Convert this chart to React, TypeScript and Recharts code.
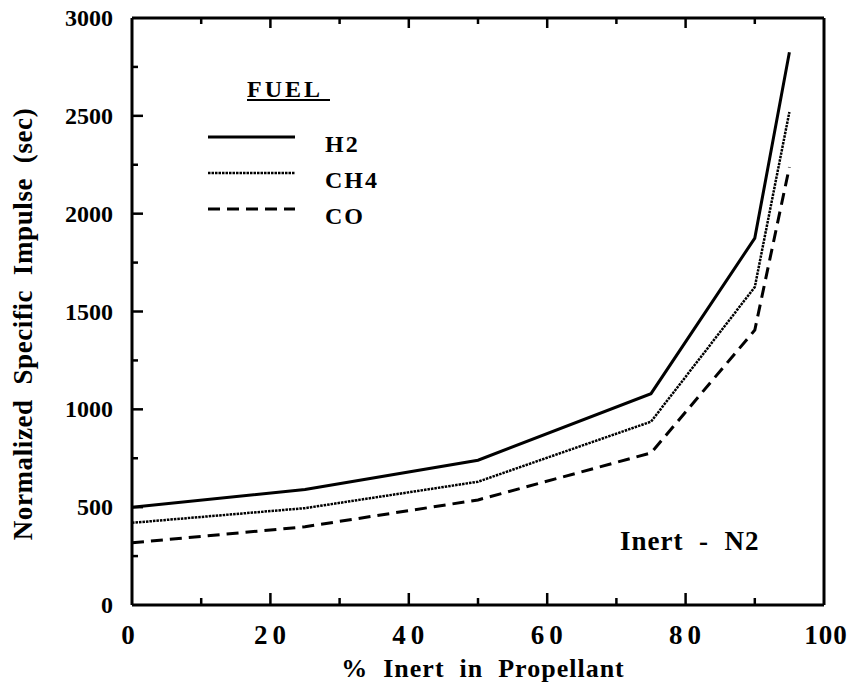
import React from "react";
import { LineChart, Line, XAxis, YAxis, Legend, Customized } from "recharts";

const inertPct = [0, 25, 50, 75, 90, 95];
const h2 = [500, 590, 740, 1080, 1875, 2825];
const ch4 = [420, 495, 630, 937, 1625, 2520];
const co = [318, 400, 537, 777, 1405, 2238];
const xTicks = [0, 10, 20, 30, 40, 50, 60, 70, 80, 90, 100];
const yTicks = [0, 250, 500, 750, 1000, 1250, 1500, 1750, 2000, 2250, 2500, 2750, 3000];
const seriesNames = ["H2", "CH4", "CO"];

const data = inertPct.map((x, i) => ({ x, H2: h2[i], CH4: ch4[i], CO: co[i] }));

const FONT = "Liberation Serif";
const txt = (size: number, spacing = 0): React.CSSProperties => ({
  fontFamily: FONT,
  fontWeight: 700,
  fontSize: size,
  letterSpacing: spacing,
  whiteSpace: "pre",
});

const seriesStyle: Record<string, { dash?: string; width: number }> = {
  H2: { width: 3 },
  CH4: { dash: "2.5 1", width: 2.5 },
  CO: { dash: "12 7", width: 3 },
};

const BottomTick = (props: any) => {
  const { x, y, payload } = props;
  const v = payload.value;
  const major = v % 20 === 0;
  return (
    <g>
      {v !== 0 && v !== 100 && (
        <line x1={x} x2={x} y1={y} y2={y - (major ? 12 : 7)} stroke="#000" strokeWidth={2.5} />
      )}
      {major && (
        <text x={x + (v === 0 ? -4 : 2)} y={y + 39} textAnchor="middle" fontFamily={FONT} fill="#000" style={txt(27, v === 0 ? 0 : v === 100 ? 1 : 5)}>
          {v}
        </text>
      )}
    </g>
  );
};

const TopTick = (props: any) => {
  const { x, y, payload } = props;
  const v = payload.value;
  const major = v % 20 === 0;
  if (v === 0 || v === 100) return <g />;
  return <line x1={x} x2={x} y1={y} y2={y + (major ? 10 : 6)} stroke="#000" strokeWidth={2.5} />;
};

const LeftTick = (props: any) => {
  const { x, y, payload } = props;
  const v = payload.value;
  const major = v % 500 === 0;
  return (
    <g>
      {v !== 0 && v !== 3000 && (
        <line x1={x} x2={x + (major ? 11 : 6)} y1={y} y2={y} stroke="#000" strokeWidth={2.5} />
      )}
      {major && (
        <text x={x - 19} y={y} dy={8} textAnchor="end" fontFamily={FONT} fill="#000" style={txt(24)}>
          {v}
        </text>
      )}
    </g>
  );
};

const RightTick = (props: any) => {
  const { x, y, payload } = props;
  const v = payload.value;
  const major = v % 500 === 0;
  if (v === 0 || v === 3000) return <g />;
  return <line x1={x} x2={x - (major ? 11 : 6)} y1={y} y2={y} stroke="#000" strokeWidth={2.5} />;
};

const LegendBox = () => (
  <svg width={200} height={160} style={{ display: "block", overflow: "visible" }}>
    <text x={50} y={27} fontFamily={FONT} fill="#000" style={txt(24, 3)}>
      FUEL
    </text>
    <line x1={50} x2={133} y1={30} y2={30} stroke="#000" strokeWidth={2} />
    {seriesNames.map((name, i) => {
      const ly = 67 + i * 36;
      const st = seriesStyle[name];
      return (
        <g key={name}>
          <line x1={11} x2={98} y1={ly} y2={ly} stroke="#000" strokeWidth={st.width} strokeDasharray={st.dash} />
          <text x={128} y={ly + 15} fontFamily={FONT} fill="#000" style={txt(24, 2)}>
            {name}
          </text>
        </g>
      );
    })}
  </svg>
);

const InertNote = () => (
  <text x={620} y={550} fontFamily={FONT} fill="#000" style={txt(27, 1)}>
    {"Inert  -  N2"}
  </text>
);

const AxisTitles = () => (
  <g>
    <text x={483} y={677} textAnchor="middle" fontFamily={FONT} fill="#000" style={txt(26, 1)}>
      {"%  Inert  in  Propellant"}
    </text>
    <text x={0} y={0} transform="translate(32,324) rotate(-90)" textAnchor="middle" fontFamily={FONT} fill="#000" style={txt(27, 0.6)}>
      {"Normalized  Specific  Impulse  (sec)"}
    </text>
  </g>
);

export default function App() {
  return (
    <div style={{ position: "absolute", left: 0, top: 0, width: 852, height: 686, background: "#fff", fontFamily: FONT }}>
      <LineChart width={852} height={686} data={data} margin={{ top: 0, right: 0, bottom: 0, left: 0 }} style={{ fontFamily: FONT }}>
        <XAxis
          dataKey="x"
          type="number"
          domain={[0, 100]}
          ticks={xTicks}
          interval={0}
          height={81}
          tickSize={0}
          tickMargin={0}
          axisLine={{ stroke: "#000", strokeWidth: 3 }}
          tick={<BottomTick />}
          allowDataOverflow
        />
        <XAxis
          xAxisId="top"
          orientation="top"
          dataKey="x"
          type="number"
          domain={[0, 100]}
          ticks={xTicks}
          interval={0}
          height={18}
          tickSize={0}
          tickMargin={0}
          axisLine={{ stroke: "#000", strokeWidth: 3 }}
          tick={<TopTick />}
        />
        <YAxis
          type="number"
          domain={[0, 3000]}
          ticks={yTicks}
          interval={0}
          width={132}
          tickSize={0}
          tickMargin={0}
          axisLine={{ stroke: "#000", strokeWidth: 3 }}
          tick={<LeftTick />}
          allowDataOverflow
        />
        <YAxis
          yAxisId="right"
          orientation="right"
          type="number"
          domain={[0, 3000]}
          ticks={yTicks}
          interval={0}
          width={28}
          tickSize={0}
          tickMargin={0}
          axisLine={{ stroke: "#000", strokeWidth: 3 }}
          tick={<RightTick />}
        />
        {seriesNames.map((name) => (
          <Line
            key={name}
            dataKey={name}
            name={name}
            type="linear"
            stroke="#000"
            strokeWidth={seriesStyle[name].width}
            strokeDasharray={seriesStyle[name].dash}
            dot={false}
            activeDot={false}
            isAnimationActive={false}
          />
        ))}
        <Legend
          layout="horizontal"
          verticalAlign="middle"
          align="center"
          content={() => <LegendBox />}
          wrapperStyle={{ position: "absolute", left: 197, top: 70, width: 200, height: 160 }}
        />
        <Customized component={InertNote} />
        <Customized component={AxisTitles} />
      </LineChart>
    </div>
  );
}
